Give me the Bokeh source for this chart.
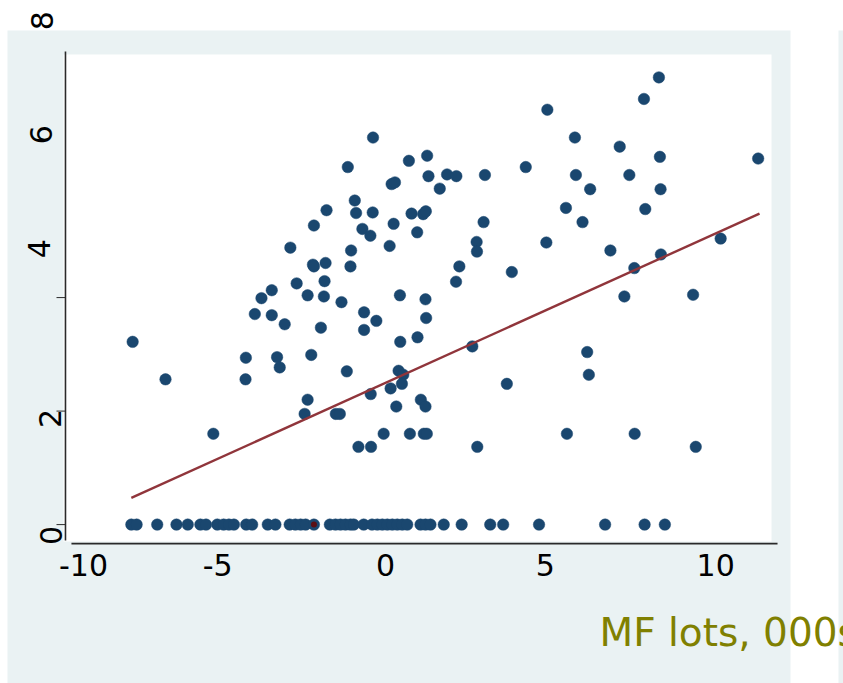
import math
from bokeh.plotting import figure
from bokeh.models import ColumnDataSource, LabelSet, Label, BoxAnnotation, Range1d
from bokeh.embed import file_html
from bokeh.resources import INLINE
from bokeh.core.properties import value

# ---------------- data ----------------
pts_x = [
    -0.30, -1.06, 0.78, 1.33, 1.37, 1.93, 2.21, 1.71, 0.26, 0.36,
    -0.85, -0.81, -0.31, -1.70, -2.08, -0.62, -0.38, 0.32, 0.86, 1.21,
    1.29, 1.03, 0.20, -2.79, -0.96, -2.11, -2.08, -1.73, -0.98, 2.30,
    2.20, -1.76, -2.60, -3.35, -2.27, -1.78, -3.66, -1.25, 0.51, 1.28,
    8.31, 7.86, 4.95, 5.78, 7.13, 8.34, 11.30, 4.30, 3.07, 5.81,
    7.42, 6.24, 8.36, 5.51, 7.90, 3.03, 6.01, 2.82, 2.83, 4.92,
    6.85, 10.17, 8.37, 7.57, 3.88, 7.27, 9.34,
    -3.86, -3.35, -2.96, -0.57, -0.57, -0.20, 1.30, -1.87, 0.52, 1.04,
    -7.54, -4.13, -3.19, -3.11, -2.16, -4.14, -6.55, -1.09, 0.47, 0.61,
    0.57, 0.23, -0.37, -2.27, -2.36, -1.42, -1.30, 1.14, 1.28, 0.40,
    -5.11, 0.02, 0.81, 1.23, 1.32, -0.74, -0.36, 2.69, 6.15, 6.20,
    3.73, 5.54, 7.58, 2.84, 9.42,
    -7.58, -7.42, -6.80, -6.22, -5.88, -5.50, -5.33, -4.99, -4.80, -4.64,
    -4.49, -4.12, -3.94, -3.47, -3.24, -2.81, -2.64, -2.48, -2.33, -2.08,
    -1.60, -1.43, -1.28, -1.13, -0.98, -0.88, -0.58, -0.33, -0.17, -0.02,
    0.13, 0.28, 0.43, 0.58, 0.73, 1.13, 1.28, 1.43, 1.83, 2.37,
    3.23, 3.62, 4.70, 6.69, 7.88, 8.49,
]
pts_y = [
    6.82, 6.30, 6.41, 6.50, 6.14, 6.17, 6.14, 5.92, 6.00, 6.03,
    5.71, 5.49, 5.50, 5.54, 5.27, 5.21, 5.09, 5.30, 5.48, 5.47,
    5.52, 5.15, 4.91, 4.88, 4.83, 4.58, 4.55, 4.61, 4.55, 4.55,
    4.28, 4.29, 4.25, 4.13, 4.04, 4.02, 3.99, 3.92, 4.04, 3.97,
    7.88, 7.50, 7.31, 6.82, 6.66, 6.48, 6.45, 6.30, 6.16, 6.16,
    6.16, 5.91, 5.91, 5.58, 5.56, 5.33, 5.33, 4.98, 4.81, 4.97,
    4.83, 5.04, 4.76, 4.52, 4.45, 4.02, 4.05,
    3.71, 3.69, 3.53, 3.74, 3.43, 3.59, 3.64, 3.47, 3.22, 3.30,
    3.22, 2.94, 2.95, 2.77, 2.99, 2.56, 2.56, 2.70, 2.71, 2.64,
    2.48, 2.40, 2.30, 2.20, 1.95, 1.95, 1.95, 2.20, 2.08, 2.08,
    1.60, 1.60, 1.60, 1.60, 1.60, 1.37, 1.37, 3.14, 3.04, 2.64,
    2.48, 1.60, 1.60, 1.37, 1.37,
    0, 0, 0, 0, 0, 0, 0, 0, 0, 0,
    0, 0, 0, 0, 0, 0, 0, 0, 0, 0,
    0, 0, 0, 0, 0, 0, 0, 0, 0, 0,
    0, 0, 0, 0, 0, 0, 0, 0, 0, 0,
    0, 0, 0, 0, 0, 0,
]
highlight_x = [-2.08]
highlight_y = [0.0]
fit_x = [-7.58, 11.34]
fit_y = [0.47, 5.48]

x_ticks = [-10, -5, 0, 5, 10]
x_tick_labels = ["-10", "-5", "0", "5", "10"]
y_ticks = [0, 2, 4, 6, 8]
y_tick_labels = ["0", "2", "4", "6", "8"]
y_ticks_marked = [0, 2, 4]
x_title = "MF lots, 000s"

# ---------------- style / layout ----------------
BG = "#eaf2f3"
NAVY = "#1a476f"
MAROON = "#90353b"
AXIS = "#2a2a2a"
FONT = "DejaVu Sans"
W, H = 843, 683

# scale: the whole canvas is the frame
X0, X1 = -11.52, 13.87
Y0, Y1 = -2.80, 9.235

p = figure(width=W, height=H,
           x_range=Range1d(X0, X1), y_range=Range1d(Y0, Y1),
           output_backend="svg", toolbar_location=None,
           x_axis_location=None, y_axis_location=None,
           min_border=0, border_fill_color="white", background_fill_color="white",
           outline_line_color=None)
p.grid.visible = False

def box(l, r, t, b, color):
    p.add_layout(BoxAnnotation(left=l, right=r, top=t, bottom=b,
                               left_units="canvas", right_units="canvas",
                               top_units="canvas", bottom_units="canvas",
                               fill_color=color, fill_alpha=1, line_color=None,
                               level="underlay"))

box(7, 790, 30, H, BG)          # graph region
box(838, W, 30, H, BG)          # neighbouring panel edge
box(63, 771, 54, 541, "white")  # plot region

# axis geometry (data units)
yaxis_x = -9.563
xaxis_y = -0.335
p.segment(x0=[yaxis_x], y0=[8.335], x1=[yaxis_x], y1=[-0.282], line_color=AXIS, line_width=1.6)
p.segment(x0=[-9.383], y0=[xaxis_y], x1=[11.883], y1=[xaxis_y], line_color=AXIS, line_width=1.6)
tick_len = 0.27
p.segment(x0=[yaxis_x - tick_len] * len(y_ticks_marked), y0=y_ticks_marked,
          x1=[yaxis_x] * len(y_ticks_marked), y1=y_ticks_marked,
          line_color=AXIS, line_width=1)

# marks
p.scatter(pts_x, pts_y, size=11.5, fill_color=NAVY, line_color=NAVY, line_width=0.5)
p.line(fit_x, fit_y, line_color=MAROON, line_width=2.4)
p.scatter(highlight_x, highlight_y, size=6, fill_color="#5b0f14", line_color=None)

# tick labels (placed as in the reference)
ylab_y = [y_ticks[0] - 0.19, y_ticks[1] - 0.13, y_ticks[2] + 0.86, y_ticks[3] + 0.87, y_ticks[4] + 0.88]
ylab_x = [62, 61, 50, 52, 52]
ysrc = ColumnDataSource(dict(x=ylab_x, y=ylab_y, t=y_tick_labels))
p.add_layout(LabelSet(x="x", y="y", text="t", source=ysrc,
                      x_units="canvas", y_units="data",
                      angle=math.pi / 2, text_align="center", text_baseline="alphabetic",
                      text_font=value(FONT), text_font_size="30px", text_color="black"))

xlab_x = [x_ticks[0] + 0.98, x_ticks[1] + 0.02, x_ticks[2] + 0.08, x_ticks[3] - 0.11, x_ticks[4] + 0.02]
xsrc = ColumnDataSource(dict(x=xlab_x, y=[-0.90] * len(x_ticks), t=x_tick_labels))
p.add_layout(LabelSet(x="x", y="y", text="t", source=xsrc,
                      x_units="data", y_units="data",
                      text_align="center", text_baseline="alphabetic",
                      text_font=value(FONT), text_font_size="30px", text_color="black"))

p.add_layout(Label(x=599, y=632, x_units="canvas", y_units="canvas", text=x_title,
                   text_align="left", text_baseline="alphabetic",
                   text_font=FONT, text_font_size="39px", text_color="#808000"))

open("out.html", "w").write(file_html(p, INLINE))
